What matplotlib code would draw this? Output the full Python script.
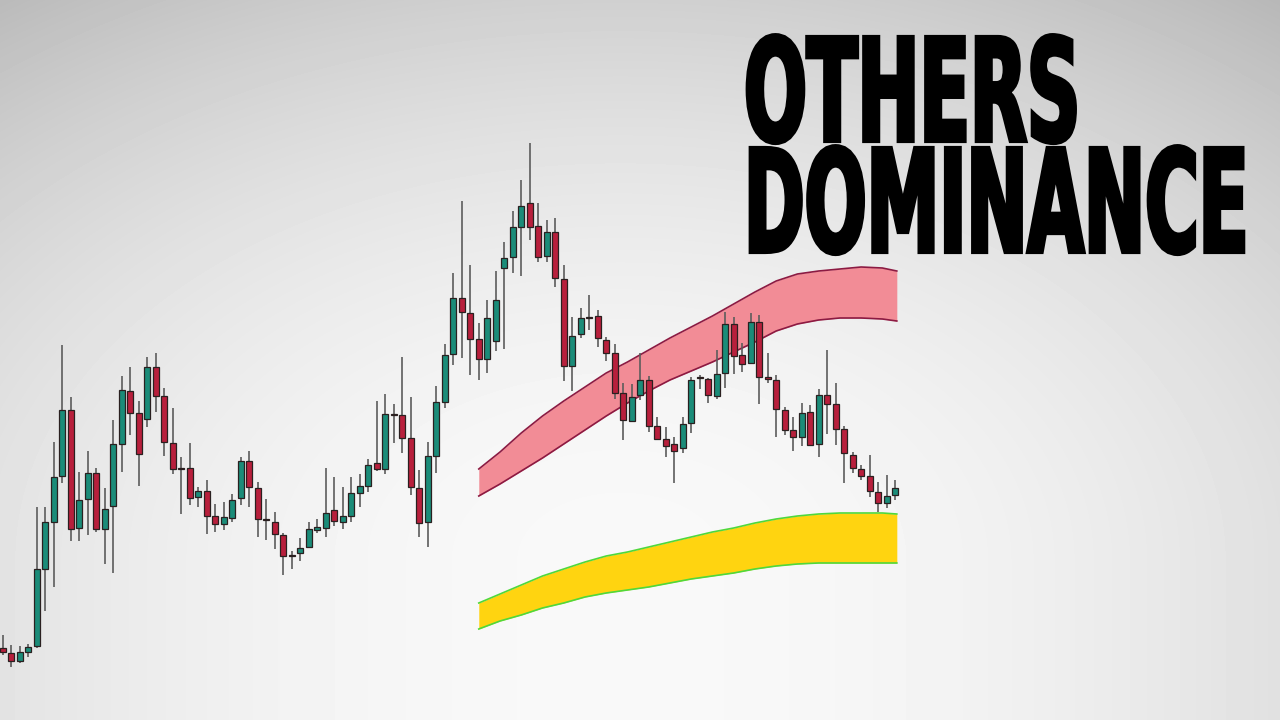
import numpy as np
import matplotlib
matplotlib.use("Agg")
import matplotlib.pyplot as plt
from matplotlib import patheffects
from matplotlib.transforms import Affine2D

# candles (open, high, low, close), arbitrary price units
opens = [72, 67, 59, 68, 74, 151, 198, 244, 310, 192, 221, 247, 191, 214, 276, 329, 307, 301, 353, 324,
         277, 252, 252, 223, 229, 204, 196, 202, 222, 259, 232, 201, 198, 185, 165, 167, 173, 190, 192, 210,
         198, 204, 227, 234, 257, 251, 306, 305, 282, 232, 198, 264, 318, 366, 422, 407, 381, 361, 379, 452,
         463, 493, 517, 494, 464, 488, 441, 354, 386, 403, 404, 380, 367, 327, 299, 325, 340, 294, 281, 276,
         272, 297, 343, 341, 324, 347, 396, 365, 357, 398, 343, 340, 310, 290, 283, 308, 276, 325, 316, 291,
         265, 251, 244, 228, 217, 225]
highs = [85, 75, 74, 76, 213, 213, 278, 375, 323, 248, 269, 252, 232, 300, 344, 353, 319, 363, 367, 332,
         312, 263, 277, 233, 240, 216, 218, 226, 263, 269, 238, 221, 208, 187, 169, 182, 198, 201, 252, 243,
         233, 243, 246, 261, 319, 326, 316, 363, 323, 250, 278, 334, 376, 447, 519, 455, 397, 420, 449, 478,
         509, 540, 577, 517, 500, 502, 455, 403, 412, 425, 410, 383, 376, 337, 336, 367, 344, 303, 293, 283,
         303, 343, 345, 342, 370, 408, 403, 377, 407, 405, 367, 345, 313, 303, 317, 315, 331, 370, 337, 294,
         268, 255, 265, 238, 245, 240]
lows = [65, 53, 57, 63, 72, 109, 133, 237, 179, 179, 185, 188, 156, 147, 248, 285, 234, 293, 308, 264,
        246, 206, 215, 213, 186, 188, 190, 198, 215, 213, 183, 180, 171, 145, 151, 159, 172, 187, 183, 194,
        191, 198, 213, 228, 249, 246, 277, 267, 225, 183, 173, 247, 312, 355, 362, 345, 340, 347, 369, 371,
        447, 444, 480, 458, 458, 433, 339, 329, 382, 390, 373, 359, 321, 280, 298, 320, 288, 281, 263, 237,
        267, 287, 331, 317, 321, 332, 346, 348, 357, 316, 337, 283, 285, 269, 274, 274, 263, 286, 275, 237,
        247, 240, 223, 208, 212, 220]
closes = [68, 59, 68, 73, 151, 198, 243, 310, 191, 220, 247, 191, 211, 276, 330, 307, 266, 353, 324, 278,
          251, 251, 222, 229, 204, 196, 203, 220, 259, 233, 201, 200, 186, 164, 164, 172, 191, 193, 207, 199,
          204, 227, 234, 255, 251, 306, 305, 282, 233, 197, 264, 318, 365, 422, 408, 381, 361, 402, 420, 462,
          493, 514, 493, 463, 488, 442, 354, 384, 402, 402, 382, 367, 327, 300, 323, 340, 294, 281, 274, 269,
          296, 340, 342, 325, 346, 396, 364, 356, 398, 343, 341, 311, 290, 283, 307, 275, 325, 316, 291, 267,
          252, 244, 229, 217, 224, 232]

# two moving-average ribbons (x in candle index)
band_x = [56, 58.5, 61, 63.5, 66, 68.5, 71, 73.5, 76, 78.5, 81, 83.5, 86, 88.5, 91, 93.5,
          96, 98.5, 101, 103.5, 105.2]
red_top = [251, 268, 287, 304, 319, 333, 347, 358, 370, 382, 393, 404, 416, 428, 439, 446,
           449, 451, 453, 452, 449]
red_bot = [224, 236, 249, 262, 276, 290, 304, 317, 329, 340, 349, 358, 368, 378, 389, 396,
           400, 402, 402, 401, 399]
gold_top = [117, 126, 135, 144, 151, 158, 164, 168, 173, 178, 183, 188, 192, 197, 201, 204,
            206, 207, 207, 207, 206]
gold_bot = [91, 99, 105, 112, 117, 123, 127, 130, 133, 137, 141, 144, 147, 151, 154, 156,
            157, 157, 157, 157, 157]

title_lines = ["OTHERS", "DOMINANCE"]

UP = "#1b8c79"
DOWN = "#b81f3c"


class Stretch(patheffects.AbstractPathEffect):
    """scale glyphs about (x0, y0) and fatten them with an outline"""
    def __init__(self, sx, sy, x0, y0, lw=3.0):
        super().__init__()
        self.sx, self.sy = sx, sy
        self.x0, self.y0 = x0, y0
        self.lw = lw

    def draw_path(self, renderer, gc, tpath, affine, rgbFace=None):
        t = affine + Affine2D().translate(-self.x0, -self.y0).scale(self.sx, self.sy) \
            .translate(self.x0, self.y0)
        gc0 = renderer.new_gc()
        gc0.copy_properties(gc)
        gc0.set_linewidth(self.lw)
        gc0.set_foreground(rgbFace)
        gc0.set_joinstyle("miter")
        renderer.draw_path(gc0, tpath, t, rgbFace)
        gc0.restore()


fig = plt.figure(figsize=(12.8, 7.2), dpi=100)

# background: soft radial light
bg = fig.add_axes([0, 0, 1, 1])
yy, xx = np.mgrid[0:720, 0:1280]
dx = (xx - 620) / 640.0
dy = np.clip((560 - yy) / 560.0, 0, None)
shade = 0.975 - 0.09 * dx ** 2 - 0.16 * dy ** 2
bg.imshow(np.clip(shade, 0, 1), cmap="gray", vmin=0, vmax=1, aspect="auto",
          extent=[0, 1280, 720, 0], interpolation="bilinear")
bg.set_axis_off()

ax = fig.add_axes([0, 0, 1, 1])
ax.patch.set_alpha(0)
ax.set_xlim(-0.35, 150.3)
ax.set_ylim(0, 720)
ax.set_axis_off()

ax.fill_between(band_x, red_bot, red_top, color="#f28c96", zorder=1, lw=0)
ax.plot(band_x, red_top, color="#8c1a42", lw=1.2, zorder=1.5)
ax.plot(band_x, red_bot, color="#8c1a42", lw=1.2, zorder=1.5)
ax.fill_between(band_x, gold_bot, gold_top, color="#ffd410", zorder=1, lw=0)
ax.plot(band_x, gold_top, color="#4fd83c", lw=1.2, zorder=1.5)
ax.plot(band_x, gold_bot, color="#4fd83c", lw=1.2, zorder=1.5)

idx = np.arange(len(opens))
o = np.array(opens, float)
c = np.array(closes, float)
up = c >= o
colors = [UP if u else DOWN for u in up]
ax.vlines(idx, lows, highs, color="#5c5c5c", lw=1.2, zorder=2)
h = np.abs(c - o)
h = np.where(h < 1.5, 1.5, h)
ax.bar(idx, h, bottom=np.minimum(o, c), width=0.7, color=colors,
       edgecolor="#2a2020", linewidth=0.9, zorder=3)

# title: fit each line's width with the font size, then stretch it upwards
targets = [(141, 336), (252, 505)]   # baseline (px from top), ink width
cap = 104                             # cap height in px
texts = []
for line, (base, width) in zip(title_lines, targets):
    t = fig.text(744 / 1280, 1 - base / 720, line, fontsize=40, fontweight="bold",
                 family="DejaVu Sans", color="black", ha="left", va="baseline")
    texts.append((t, base, width))

fig.canvas.draw()
r = fig.canvas.get_renderer()
for t, base, width in texts:
    w = t.get_window_extent(r).width
    t.set_fontsize(40 * width / w)
fig.canvas.draw()
for t, base, width in texts:
    bb = t.get_window_extent(r)
    px = t.get_fontsize() * fig.dpi / 72
    sy = cap / (0.729 * px)
    t.set_path_effects([Stretch(width / bb.width, sy, bb.x0, 720 - base, lw=3.0)])

fig.savefig("out.png", dpi=100)
